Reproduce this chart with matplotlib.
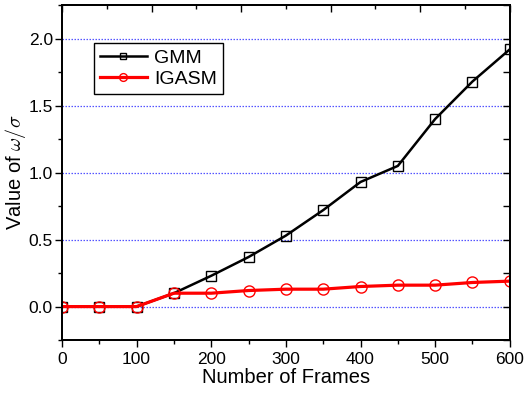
import matplotlib
matplotlib.use("Agg")
import matplotlib.pyplot as plt
from matplotlib.ticker import MultipleLocator, FormatStrFormatter

# data
frames = [0, 50, 100, 150, 200, 250, 300, 350, 400, 450, 500, 550, 600]
gmm = [0.0, 0.0, 0.0, 0.10, 0.23, 0.37, 0.53, 0.72, 0.93, 1.05, 1.40, 1.68, 1.92]
igasm = [0.0, 0.0, 0.0, 0.10, 0.10, 0.12, 0.13, 0.13, 0.15, 0.16, 0.16, 0.18, 0.19]

plt.rcParams["font.family"] = ["Liberation Sans", "DejaVu Sans"]
plt.rcParams["mathtext.fontset"] = "cm"

fig = plt.figure(figsize=(5.25, 3.95), dpi=100)
ax = fig.add_axes([0.118, 0.139, 0.853, 0.848])

ax.plot(frames, gmm, color="black", lw=1.8, marker="s", ms=7,
        mfc="none", mec="black", mew=1.0, label="GMM", zorder=3)
ax.plot(frames, igasm, color="red", lw=2.3, marker="o", ms=8,
        mfc="none", mec="red", mew=1.0, label="IGASM", zorder=4)

ax.set_xlim(0, 600)
ax.set_ylim(-0.25, 2.25)
ax.xaxis.set_major_locator(MultipleLocator(100))
ax.xaxis.set_minor_locator(MultipleLocator(50))
ax.yaxis.set_major_locator(MultipleLocator(0.5))
ax.yaxis.set_minor_locator(MultipleLocator(0.25))
ax.yaxis.set_major_formatter(FormatStrFormatter("%.1f"))

ax.tick_params(which="major", direction="out", length=5, width=1, labelsize=12.5)
ax.tick_params(which="minor", direction="out", length=3, width=1)
ax.tick_params(axis="y", which="major", pad=1.5)

# right side: inward ticks, no labels
right = ax.twinx()
right.set_ylim(-0.25, 2.25)
right.yaxis.set_major_locator(MultipleLocator(0.5))
right.yaxis.set_minor_locator(MultipleLocator(0.25))
right.tick_params(which="major", direction="in", length=5, width=1, labelright=False)
right.tick_params(which="minor", direction="in", length=5, width=1)

# top axis has its own tick spacing
top = ax.twiny()
top.set_xlim(0, 600)
top.xaxis.set_major_locator(MultipleLocator(120))
top.xaxis.set_minor_locator(MultipleLocator(60))
top.tick_params(which="major", direction="in", length=5, width=1, labeltop=False)
top.tick_params(which="minor", direction="in", length=3, width=1)

for a in (ax, right, top):
    for s in a.spines.values():
        s.set_linewidth(1.2)

ax.grid(axis="y", which="major", color="#5555ff", linestyle=(0, (1.2, 1.2)), lw=0.9)
ax.set_axisbelow(True)

ax.set_xlabel("Number of Frames", fontsize=14.5, labelpad=1)
ax.set_ylabel(r"Value of $\omega/\sigma$", fontsize=14.5)
ax.yaxis.set_label_coords(-0.075, 0.5)

leg = ax.legend(loc="upper left", bbox_to_anchor=(0.05, 0.915), fontsize=14,
                markerscale=0.7, handlelength=2.4, frameon=True, fancybox=False,
                edgecolor="black", framealpha=1, borderpad=0.3, labelspacing=0.2,
                handletextpad=0.4)
leg.get_frame().set_linewidth(1.0)

fig.savefig("out.png", dpi=100)
